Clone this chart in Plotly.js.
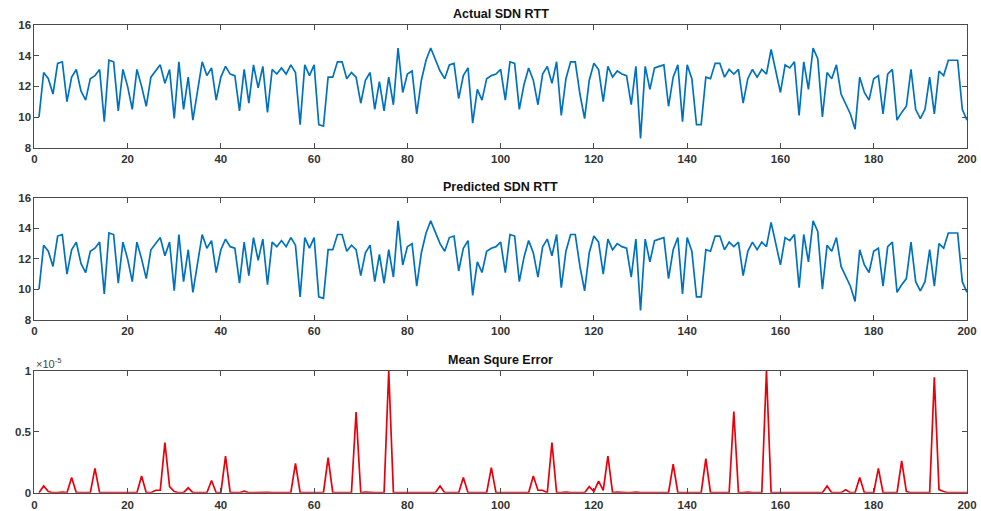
<!DOCTYPE html>
<html>
<head>
<meta charset="utf-8">
<script src="https://cdn.plot.ly/plotly-3.0.1.min.js"></script>
<style>html,body{margin:0;padding:0;background:#fff;}#chart{width:981px;height:511px;}</style>
</head>
<body>
<div id="chart"></div>
<script>
// Sample index 1..200
const sampleCount = 200;

// Actual SDN RTT
const actualRTT = [
10.0,12.9,12.5,11.5,13.5,13.6,11.0,12.6,13.1,11.7,
11.1,12.5,12.7,13.1,9.7,13.7,13.6,10.4,13.1,12.0,
10.5,13.1,12.0,10.7,12.6,13.0,13.4,12.2,13.1,9.9,
13.6,10.5,12.6,9.8,11.7,13.6,12.7,13.2,11.1,12.6,
13.3,12.8,12.7,10.4,13.1,10.9,13.4,11.9,13.3,10.3,
13.1,12.8,13.2,12.8,13.4,12.9,9.5,13.4,12.7,13.4,
9.5,9.4,12.6,12.6,13.6,13.6,12.5,12.9,12.6,10.9,
12.4,12.9,10.5,12.3,10.4,12.6,10.8,14.5,11.6,12.8,
13.0,10.2,12.4,13.7,14.5,13.7,13.0,12.5,13.4,13.5,
11.2,12.7,13.2,9.6,11.8,11.1,12.5,12.7,12.8,13.1,
11.1,13.6,13.5,10.5,12.1,13.2,12.4,10.8,12.8,13.3,
12.2,13.6,10.1,12.5,13.6,13.6,11.5,9.9,12.4,13.5,
13.1,11.0,13.3,12.6,13.0,12.8,12.7,10.8,13.3,8.6,
13.3,11.8,13.2,13.3,13.4,10.7,12.6,13.4,9.7,13.4,
12.5,9.5,9.5,12.6,12.5,13.5,13.5,12.6,13.1,12.8,
13.1,10.9,12.5,13.1,12.6,13.1,12.8,14.4,13.1,11.6,
13.4,13.2,13.6,10.1,13.6,11.8,14.5,13.8,10.0,12.9,
12.5,13.4,11.5,10.9,10.2,9.2,12.6,11.6,11.1,12.5,
12.7,10.2,12.8,13.1,9.8,10.3,10.7,13.1,10.5,9.9,
10.5,12.6,10.2,13.0,12.7,13.7,13.7,13.7,10.5,9.8
];

// Predicted SDN RTT (visually identical to actual)
const predictedRTT = [
10.0,12.9,12.5,11.5,13.5,13.6,11.0,12.6,13.1,11.7,
11.1,12.5,12.7,13.1,9.7,13.7,13.6,10.4,13.1,12.0,
10.5,13.1,12.0,10.7,12.6,13.0,13.4,12.2,13.1,9.9,
13.6,10.5,12.6,9.8,11.7,13.6,12.7,13.2,11.1,12.6,
13.3,12.8,12.7,10.4,13.1,10.9,13.4,11.9,13.3,10.3,
13.1,12.8,13.2,12.8,13.4,12.9,9.5,13.4,12.7,13.4,
9.5,9.4,12.6,12.6,13.6,13.6,12.5,12.9,12.6,10.9,
12.4,12.9,10.5,12.3,10.4,12.6,10.8,14.5,11.6,12.8,
13.0,10.2,12.4,13.7,14.5,13.7,13.0,12.5,13.4,13.5,
11.2,12.7,13.2,9.6,11.8,11.1,12.5,12.7,12.8,13.1,
11.1,13.6,13.5,10.5,12.1,13.2,12.4,10.8,12.8,13.3,
12.2,13.6,10.1,12.5,13.6,13.6,11.5,9.9,12.4,13.5,
13.1,11.0,13.3,12.6,13.0,12.8,12.7,10.8,13.3,8.6,
13.3,11.8,13.2,13.3,13.4,10.7,12.6,13.4,9.7,13.4,
12.5,9.5,9.5,12.6,12.5,13.5,13.5,12.6,13.1,12.8,
13.1,10.9,12.5,13.1,12.6,13.1,12.8,14.4,13.1,11.6,
13.4,13.2,13.6,10.1,13.6,11.8,14.5,13.8,10.0,12.9,
12.5,13.4,11.5,10.9,10.2,9.2,12.6,11.6,11.1,12.5,
12.7,10.2,12.8,13.1,9.8,10.3,10.7,13.1,10.5,9.9,
10.5,12.6,10.2,13.0,12.7,13.7,13.7,13.7,10.5,9.8
];

// Mean squared error, in units of 1e-5 (axis shows x10^-5)
const mseE5 = [
0,0.055,0.01,0,0,0.005,0,0.125,0,0,
0,0,0.2,0,0,0,0,0,0,0,
0,0,0.137,0,0,0.02,0.02,0.41,0.05,0.01,
0,0,0.04,0,0,0,0,0.1,0,0,
0.3,0,0,0,0.012,0,0,0.003,0,0.003,
0,0,0,0,0,0.24,0,0,0,0,
0,0,0.287,0,0,0,0,0,0.66,0,
0.005,0,0,0,0,1.0,0,0,0,0,
0,0,0,0,0,0,0.055,0,0,0,
0,0.125,0,0,0,0,0,0.205,0,0,
0,0,0,0,0,0,0.137,0.02,0.02,0,
0.41,0,0,0.005,0,0,0,0,0.05,0.01,
0.095,0.02,0.3,0,0.005,0,0,0,0.005,0,
0,0,0,0,0,0,0.235,0,0,0,
0,0,0,0.28,0,0,0,0,0,0.665,
0,0,0.005,0,0,0,1.0,0,0,0,
0,0,0,0,0,0,0,0,0,0.055,
0,0,0,0.025,0,0,0.125,0,0,0,
0.2,0,0,0,0,0.26,0.01,0,0,0,
0,0,0.945,0.025,0.01,0,0,0,0,0
];

const xTicks = [0,20,40,60,80,100,120,140,160,180,200];
const rttTicks = [8,10,12,14,16];
const mseTicks = [0,0.5,1];
const mseTickText = ['0','0.5','1'];
const titles = ['Actual SDN RTT','Predicted SDN RTT','Mean Squre Error'];

const idx = Array.from({length: sampleCount}, (_, i) => i + 1);

const axisCol = '#4a4a4a';
const tickFont = {family: 'Liberation Sans, Arial, sans-serif', size: 11.5, color: '#333', weight: 'bold'};

function xaxis(domainY, anchor) {
  return {
    domain: [0.035, 0.9857], anchor: anchor, range: [0, 200],
    tickvals: xTicks, ticks: 'inside', ticklen: 5, tickwidth: 1, tickcolor: axisCol,
    showline: true, linecolor: axisCol, linewidth: 1, mirror: 'ticks',
    showgrid: false, zeroline: false, tickfont: tickFont, ticklabelstandoff: 1
  };
}
function yaxis(domain, anchor, range, vals, text) {
  const a = {
    domain: domain, anchor: anchor, range: range,
    tickvals: vals, ticks: 'inside', ticklen: 5, tickwidth: 1, tickcolor: axisCol,
    showline: true, linecolor: axisCol, linewidth: 1, mirror: 'ticks',
    showgrid: false, zeroline: false, tickfont: tickFont
  };
  if (text) a.ticktext = text;
  return a;
}

const blue = '#0072BD';
const data = [
  {x: idx, y: actualRTT, type: 'scatter', mode: 'lines', line: {color: blue, width: 1.7}, xaxis: 'x', yaxis: 'y', hoverinfo: 'none'},
  {x: idx, y: predictedRTT, type: 'scatter', mode: 'lines', line: {color: blue, width: 1.7}, xaxis: 'x2', yaxis: 'y2', hoverinfo: 'none'},
  {x: idx, y: mseE5, type: 'scatter', mode: 'lines', line: {color: '#E8000B', width: 1.7}, xaxis: 'x3', yaxis: 'y3', hoverinfo: 'none', cliponaxis: false}
];

const titleFont = {family: 'Liberation Sans, Arial, sans-serif', size: 12.5, color: '#111', weight: 'bold'};
const layout = {
  width: 981, height: 511,
  margin: {l: 0, r: 0, t: 0, b: 0},
  paper_bgcolor: '#fff', plot_bgcolor: '#fff',
  showlegend: false,
  xaxis: xaxis(null, 'y'),
  yaxis: yaxis([0.7110, 0.9511], 'x', [8, 16], rttTicks),
  xaxis2: xaxis(null, 'y2'),
  yaxis2: yaxis([0.3744, 0.6125], 'x2', [8, 16], rttTicks),
  xaxis3: xaxis(null, 'y3'),
  yaxis3: yaxis([0.0358, 0.2746], 'x3', [0, 1], mseTicks, mseTickText),
  annotations: [
    {text: titles[0], xref: 'paper', yref: 'paper', x: 0.5105, y: 1 - 14.5/511, xanchor: 'center', yanchor: 'middle', showarrow: false, font: titleFont},
    {text: titles[1], xref: 'paper', yref: 'paper', x: 0.5105, y: 1 - 186.5/511, xanchor: 'center', yanchor: 'middle', showarrow: false, font: titleFont},
    {text: titles[2], xref: 'paper', yref: 'paper', x: 0.5105, y: 1 - 359.5/511, xanchor: 'center', yanchor: 'middle', showarrow: false, font: titleFont},
    {text: '×10<sup>-5</sup>', xref: 'paper', yref: 'paper', x: 0.0345, y: 1 - 363/511, xanchor: 'left', yanchor: 'middle', showarrow: false,
     font: {family: 'Liberation Sans, Arial, sans-serif', size: 11, color: '#444'}}
  ]
};

Plotly.newPlot('chart', data, layout, {staticPlot: true, displayModeBar: false});
</script>
</body>
</html>
